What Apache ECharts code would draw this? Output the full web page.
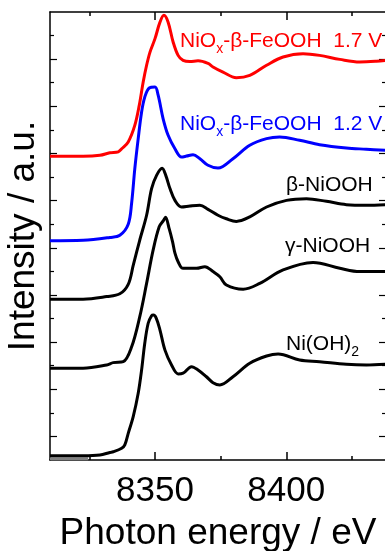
<!DOCTYPE html>
<html>
<head>
<meta charset="utf-8">
<script src="https://cdn.jsdelivr.net/npm/echarts@6/dist/echarts.min.js"></script>
<style>
html, body { margin: 0; padding: 0; background: #fff; }
#chart { width: 385px; height: 551px; }
</style>
</head>
<body>
<div id="chart"></div>
<script>
// photon energy (eV) and stacked intensity (a.u.)
var energyFe17 = [8310, 8322.6, 8329.0, 8332.8, 8336.0, 8337.3, 8339.8, 8342.3, 8344.0, 8345.5, 8346.8, 8348.1, 8350.0, 8351.9, 8353.4, 8355.0, 8356.9, 8358.8, 8360.7, 8363.3, 8366.4, 8370.2, 8372.1, 8375.9, 8381.0, 8386.1, 8392.5, 8398.8, 8406.4, 8412.7, 8420.4, 8428.0, 8434.3, 8437.9];
var intensityFe17 = [12.88, 12.88, 12.92, 13.03, 13.07, 13.20, 13.49, 14.19, 15.04, 16.03, 16.74, 17.30, 17.87, 18.57, 18.86, 18.57, 17.73, 17.16, 16.95, 16.90, 16.93, 16.82, 16.67, 16.45, 16.21, 16.31, 16.74, 17.09, 17.23, 17.16, 16.99, 16.88, 16.91, 16.95];

var energyFe12 = [8310, 8322.6, 8332.8, 8336.6, 8339.8, 8341.1, 8342.3, 8343.6, 8344.9, 8346.1, 8347.8, 8350.0, 8351.2, 8353.1, 8355.0, 8357.6, 8360.1, 8362.0, 8364.5, 8367.1, 8370.2, 8374.0, 8379.7, 8386.1, 8392.5, 8397.5, 8405.1, 8412.7, 8422.9, 8430.5, 8437.9];
var intensityFe12 = [9.30, 9.32, 9.44, 9.53, 10.0, 10.9, 12.35, 13.63, 14.76, 15.39, 15.78, 15.82, 15.47, 14.47, 13.77, 13.20, 12.85, 12.89, 12.95, 12.78, 12.50, 12.38, 12.78, 13.35, 13.63, 13.70, 13.56, 13.37, 13.23, 13.18, 13.13];

var energyBeta = [8310, 8322.6, 8331.6, 8336.6, 8339.8, 8341.7, 8344.2, 8346.8, 8348.7, 8350.6, 8352.7, 8354.1, 8355.7, 8357.6, 8360.1, 8363.3, 8367.1, 8370.2, 8374.0, 8377.2, 8381.0, 8386.1, 8392.5, 8400.1, 8407.7, 8415.3, 8422.9, 8430.5, 8437.9];
var intensityBeta = [6.82, 6.82, 6.93, 7.05, 7.45, 8.25, 9.33, 10.38, 11.51, 12.07, 12.37, 12.07, 11.51, 11.01, 10.73, 10.77, 10.80, 10.63, 10.38, 10.23, 10.12, 10.31, 10.73, 11.01, 11.08, 10.97, 10.83, 10.80, 10.83];

var energyGamma = [8310, 8322.6, 8331.6, 8334.1, 8337.9, 8341.1, 8344.2, 8346.8, 8349.3, 8351.6, 8353.2, 8354.0, 8355.4, 8356.7, 8357.6, 8358.8, 8360.7, 8365.8, 8369.0, 8372.1, 8374.7, 8377.2, 8383.6, 8389.9, 8398.8, 8410.2, 8420.4, 8428.0, 8437.9];
var intensityGamma = [3.89, 3.89, 4.03, 4.13, 4.17, 4.80, 6.08, 7.49, 8.91, 9.89, 10.15, 10.29, 9.81, 9.25, 8.77, 8.41, 8.13, 8.13, 8.20, 7.99, 7.77, 7.42, 7.24, 7.49, 8.06, 8.38, 8.13, 7.99, 7.99];

var energyNiOH = [8310, 8322.6, 8329.0, 8332.8, 8334.1, 8337.3, 8338.5, 8339.8, 8341.7, 8343.6, 8344.9, 8346.1, 8347.4, 8348.7, 8349.4, 8350.5, 8351.9, 8353.8, 8356.3, 8358.8, 8360.7, 8363.9, 8366.4, 8369.6, 8372.1, 8374.7, 8379.7, 8386.1, 8392.5, 8396.9, 8405.1, 8412.7, 8422.9, 8430.5, 8437.9];
var intensityNiOH = [0.18, 0.18, 0.21, 0.32, 0.35, 0.50, 0.64, 1.13, 1.84, 2.83, 3.82, 4.95, 5.80, 6.12, 6.15, 6.01, 5.51, 4.66, 4.03, 3.65, 3.68, 3.96, 3.82, 3.53, 3.28, 3.18, 3.53, 4.10, 4.41, 4.50, 4.24, 4.17, 4.06, 4.03, 4.06];

var energyGrey = [8310, 8324.5];
var intensityGrey = [0.05, 0.05];

var xMajor = [8350, 8400];
var xMinor = [8325, 8375, 8425];
var yMajor = [1, 3, 5, 7, 9, 11, 13, 15, 17];
var yMinor = [2, 4, 6, 8, 10, 12, 14, 16, 18];

var xMin = 8310, xMax = 8438, yMin = 0, yMax = 19;
var font = 'Arial, Liberation Sans, sans-serif';

function pairs(xs, ys) {
  return xs.map(function (x, i) { return [x, ys[i]]; });
}

function xAx(pos, ticks, len, showLine, labels) {
  return {
    type: 'value', position: pos, min: xMin, max: xMax,
    axisLine: { show: showLine, onZero: false, lineStyle: { color: '#000', width: 1.5 } },
    axisTick: { show: true, inside: true, length: len, customValues: ticks, lineStyle: { color: '#000', width: 1.5 } },
    axisLabel: labels ? {
      show: true, customValues: ticks, margin: 14, color: '#000', fontSize: 35, fontFamily: font,
      formatter: function (v) { return String(v); }
    } : { show: false },
    splitLine: { show: false }
  };
}

function yAx(pos, ticks, len, showLine) {
  return {
    type: 'value', position: pos, min: yMin, max: yMax,
    axisLine: { show: showLine, onZero: false, lineStyle: { color: '#000', width: 1.5 } },
    axisTick: { show: true, inside: true, length: len, customValues: ticks, lineStyle: { color: '#000', width: 1.2 } },
    axisLabel: { show: false },
    splitLine: { show: false }
  };
}

function line(name, xs, ys, color) {
  return {
    name: name, type: 'line', data: pairs(xs, ys),
    showSymbol: false, smooth: 0.35,
    lineStyle: { color: color, width: 3 },
    xAxisIndex: 0, yAxisIndex: 0, z: 3
  };
}

var xAxes = [xAx('bottom', xMajor, 8, true, true), xAx('bottom', xMinor, 4, false, false),
             xAx('top', xMajor, 8, true, false), xAx('top', xMinor, 4, false, false)];
xAxes[0].name = 'Photon energy / eV';
xAxes[0].nameLocation = 'middle';
xAxes[0].nameGap = 55;
xAxes[0].nameTextStyle = { color: '#000', fontSize: 37, fontFamily: font };

var yAxes = [yAx('left', yMajor, 7, true), yAx('left', yMinor, 4, false),
             yAx('right', yMajor, 7, true), yAx('right', yMinor, 4, false)];
yAxes[0].name = 'Intensity / a.u.';
yAxes[0].nameLocation = 'middle';
yAxes[0].nameRotate = 90;
yAxes[0].nameGap = 8;
yAxes[0].nameTextStyle = { color: '#000', fontSize: 37, fontFamily: font };

function label(x, y, text, color) {
  return {
    type: 'text', x: x, y: y, z: 10,
    style: {
      text: text, fill: color, fontFamily: font, fontSize: 21,
      align: 'left', verticalAlign: 'middle',
      rich: {
        m: { fill: color, fontSize: 21, fontFamily: font, lineHeight: 30 },
        s: { fill: color, fontSize: 14, fontFamily: font, lineHeight: 14, verticalAlign: 'bottom' }
      }
    }
  };
}

var chart = echarts.init(document.getElementById('chart'));
chart.setOption({
  animation: false,
  backgroundColor: '#fff',
  grid: { left: 50, top: 12, width: 336, height: 448, outerBoundsMode: 'none', containLabel: false },
  xAxis: xAxes,
  yAxis: yAxes,
  series: [
    line('grey', energyGrey, intensityGrey, '#808080'),
    line('NiOH2', energyNiOH, intensityNiOH, '#000'),
    line('gamma', energyGamma, intensityGamma, '#000'),
    line('beta', energyBeta, intensityBeta, '#000'),
    line('fe12', energyFe12, intensityFe12, '#0000ff'),
    line('fe17', energyFe17, intensityFe17, '#ff0000')
  ],
  graphic: [
    label(180, 41, '{m|NiO}{s|x}{m|-β-FeOOH  1.7 V}', '#ff0000'),
    label(180, 124, '{m|NiO}{s|x}{m|-β-FeOOH  1.2 V}', '#0000ff'),
    label(286, 185, '{m|β-NiOOH}', '#000'),
    label(285, 246, '{m|γ-NiOOH}', '#000'),
    label(286, 344, '{m|Ni(OH)}{s|2}', '#000')
  ]
});
</script>
</body>
</html>
